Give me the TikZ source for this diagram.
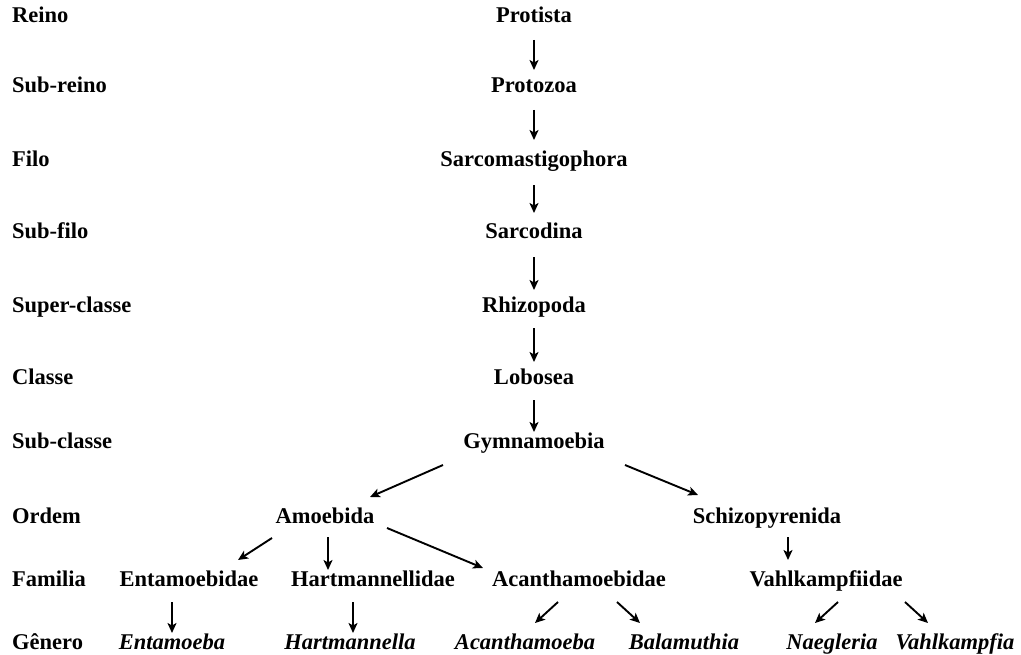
\documentclass[tikz,border=0pt]{standalone}
\usepackage{fontspec}
\setmainfont{Liberation Serif}
\usetikzlibrary{arrows.meta,calc}
\begin{document}
\begin{tikzpicture}[x=1bp,y=-1bp,
  lbl/.style={font=\fontsize{22.5bp}{27bp}\selectfont\bfseries, inner sep=0pt, text height=0.95em, text depth=0.1em},
  rank/.style={lbl, anchor=west},
  taxon/.style={lbl},
  genus/.style={lbl, font=\fontsize{22.5bp}{27bp}\selectfont\bfseries\itshape},
  arr/.style={line width=1.9bp, -{Stealth[length=10bp,width=9bp,inset=2.5bp]}}
]
\fill[white] (0,0) rectangle (1021,655);
\useasboundingbox (0,0) rectangle (1021,655);

% rank labels
\node[rank] (rReino) at (12,18) {Reino};
\node[rank] (rSubreino) at (12,88) {Sub-reino};
\node[rank] (rFilo) at (12,162) {Filo};
\node[rank] (rSubfilo) at (12,234) {Sub-filo};
\node[rank] (rSuper) at (12,308) {Super-classe};
\node[rank] (rClasse) at (12,380) {Classe};
\node[rank] (rSubclasse) at (12,444) {Sub-classe};
\node[rank] (rOrdem) at (12,519) {Ordem};
\node[rank] (rFamilia) at (12,582) {Familia};
\node[rank] (rGenero) at (12,645) {Gênero};

% central chain
\node[taxon] (prot) at (534,18) {Protista};
\node[taxon] (protz) at (534,88) {Protozoa};
\node[taxon] (sarcm) at (534,162) {Sarcomastigophora};
\node[taxon] (sarcd) at (534,234) {Sarcodina};
\node[taxon] (rhiz) at (534,308) {Rhizopoda};
\node[taxon] (lob) at (534,380) {Lobosea};
\node[taxon] (gym) at (534,444) {Gymnamoebia};

% orders
\node[taxon] (amo) at (325,519) {Amoebida};
\node[taxon] (sch) at (767,519) {Schizopyrenida};

% families
\node[taxon] (entf) at (189,582) {Entamoebidae};
\node[taxon] (hartf) at (373,582) {Hartmannellidae};
\node[taxon] (acanf) at (579,582) {Acanthamoebidae};
\node[taxon] (vahlf) at (826,582) {Vahlkampfiidae};

% genera
\node[genus] (entg) at (172,645) {Entamoeba};
\node[genus] (hartg) at (350,645) {Hartmannella};
\node[genus] (acang) at (525,645) {Acanthamoeba};
\node[genus] (balg) at (684,645) {Balamuthia};
\node[genus] (naeg) at (832,645) {Naegleria};
\node[genus] (vahlg) at (955,645) {Vahlkampfia};

% arrows
\draw[arr] ($(prot)+(0,22)$) -- ($(protz)+(0,-18)$);
\draw[arr] ($(protz)+(0,22)$) -- ($(sarcm)+(0,-22)$);
\draw[arr] ($(sarcm)+(0,23)$) -- ($(sarcd)+(0,-21)$);
\draw[arr] ($(sarcd)+(0,23)$) -- ($(rhiz)+(0,-18)$);
\draw[arr] ($(rhiz)+(0,20)$) -- ($(lob)+(0,-18)$);
\draw[arr] ($(lob)+(0,20)$) -- ($(gym)+(0,-12)$);

\draw[arr] ($(gym)+(-91,21)$) -- ($(amo)+(45,-22)$);
\draw[arr] ($(gym)+(91,21)$) -- ($(sch)+(-69,-24)$);

\draw[arr] ($(amo)+(-53,19)$) -- ($(entf)+(49,-22)$);
\draw[arr] ($(amo)+(3,18)$) -- ($(hartf)+(-45,-12)$);
\draw[arr] ($(amo)+(62,9)$) -- ($(acanf)+(-96,-14)$);
\draw[arr] ($(sch)+(21,18)$) -- ($(vahlf)+(-38,-22)$);

\draw[arr] ($(entf)+(-17,20)$) -- ($(entg)+(0,-12)$);
\draw[arr] ($(hartf)+(-20,20)$) -- ($(hartg)+(3,-12)$);
\draw[arr] ($(acanf)+(-21,20)$) -- ($(acang)+(10,-22)$);
\draw[arr] ($(acanf)+(38,20)$) -- ($(balg)+(-44,-22)$);
\draw[arr] ($(vahlf)+(12,20)$) -- ($(naeg)+(-17,-22)$);
\draw[arr] ($(vahlf)+(79,20)$) -- ($(vahlg)+(-27,-22)$);
\end{tikzpicture}
\end{document}
